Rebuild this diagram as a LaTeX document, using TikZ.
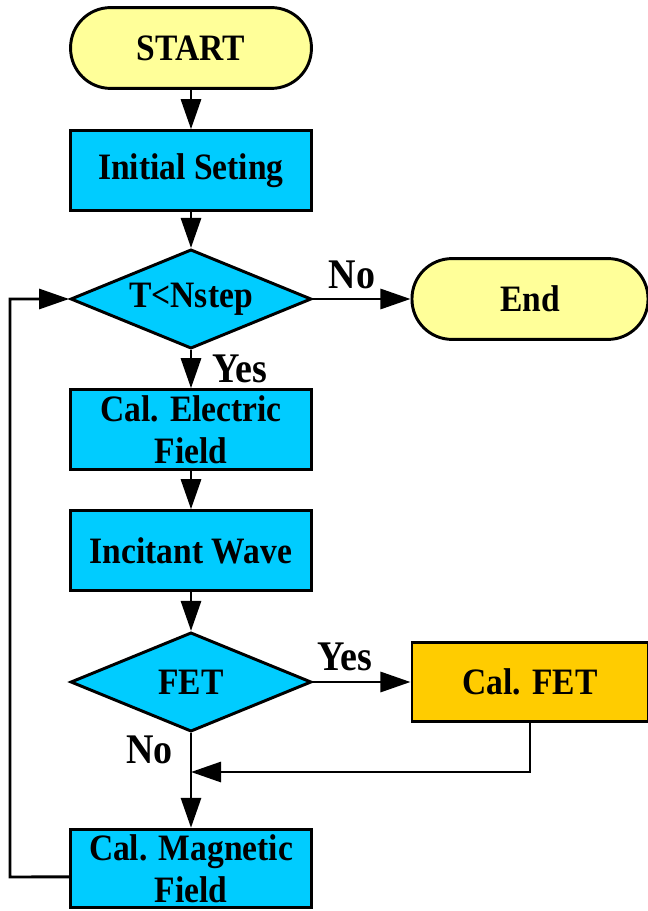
\documentclass[tikz,border=0pt]{standalone}
\usepackage{fontspec}
\setmainfont{Liberation Serif}[FakeStretch=0.9]
\usetikzlibrary{shapes.geometric,arrows.meta,positioning}
\definecolor{termyellow}{HTML}{FFFF99}
\definecolor{boxcyan}{HTML}{00CCFF}
\definecolor{fetgold}{HTML}{FFCC00}

\begin{document}
\begin{tikzpicture}[x=0.025cm, y=0.025cm]
\tikzstyle{every node}+=[font=\fontsize{26.5}{30}\selectfont\bfseries]
\tikzstyle{terminal}=[draw, line width=2.1pt, fill=termyellow, rounded corners=1cm, minimum height=2.02cm, inner sep=0pt]
\tikzstyle{process}=[draw, line width=2.1pt, fill=boxcyan, minimum width=6.02cm, minimum height=1.99cm, inner sep=0pt, align=center]
\tikzstyle{decision}=[draw, line width=2.1pt, fill=boxcyan, diamond, shape aspect=2.42, minimum width=6.02cm, minimum height=2.48cm, inner sep=0pt]
\tikzstyle{flow}=[line width=2.1pt, -{Triangle[length=0.75cm,width=0.5cm]}]
\tikzstyle{lbl}=[inner sep=0pt, font=\fontsize{30}{34}\selectfont\bfseries]
\path[use as bounding box] (0,0) rectangle (648,-911);
% blocks
\node[terminal, minimum width=6.02cm] (start) at (191,-48) {START};
\node[process] (init) at (191,-170.5) {Initial Seting};
\node[decision] (tcheck) at (191,-299) {T<Nstep};
\node[terminal, minimum width=5.9cm] (finish) at (530,-299) {End};
\node[process] (efield) at (191,-429.5) {Cal. Electric\\Field};
\node[process] (wave) at (191,-550.5) {Incitant Wave};
\node[decision] (fetcheck) at (191,-682) {FET};
\node[process, fill=fetgold, minimum width=5.9cm] (calfet) at (530,-682) {Cal. FET};
\node[process, minimum height=1.96cm] (hfield) at (191,-868.5) {Cal. Magnetic\\Field};
\coordinate (merge) at (191,-772);
\coordinate (back) at (10,-877);
% connectors
\draw[flow] (start) -- (init);
\draw[flow] (init) -- (tcheck);
\draw[flow] (tcheck) -- node[lbl, above=0.22cm, pos=0.4] (tno) {No} (finish);
\draw[flow] (tcheck) -- node[lbl, right=0.5cm, pos=0.5] (tyes) {Yes} (efield);
\draw[flow] (efield) -- (wave);
\draw[flow] (wave) -- (fetcheck);
\draw[flow] (fetcheck) -- node[lbl, above=0.25cm, pos=0.33] (fyes) {Yes} (calfet);
\draw[flow] (fetcheck) -- node[lbl, left=0.42cm, pos=0.18] (fno) {No} (hfield);
\draw[flow] (calfet) |- (merge);
\draw[flow] ([yshift=-0.21cm]hfield.west) -- (back) |- (tcheck);
\end{tikzpicture}
\end{document}
